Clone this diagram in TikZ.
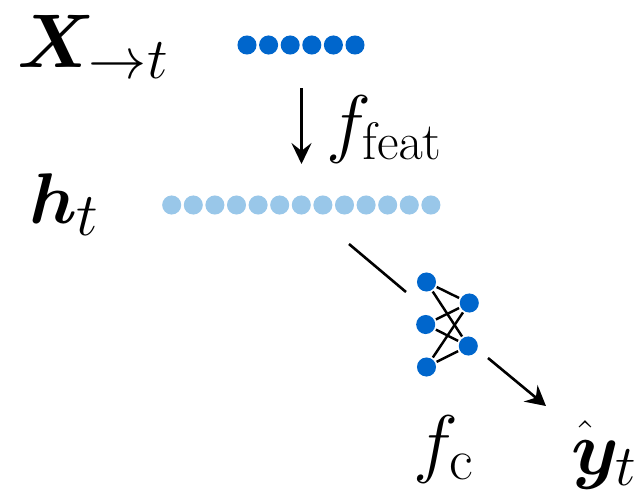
\documentclass[tikz,border=0pt]{standalone}
\usepackage{fix-cm}
\usepackage{amsmath,bm}
\usetikzlibrary{arrows.meta}
\DeclareMathSizes{24.88}{24.88}{19}{14}
\DeclareMathSizes{24.9}{24.9}{17.28}{12}
\DeclareMathSizes{23.5}{23.5}{20}{14}
\definecolor{dotdark}{RGB}{0,102,204}
\definecolor{dotlight}{RGB}{153,199,233}
\begin{document}
\begin{tikzpicture}[x=0.3274pt,y=-0.3274pt,
  lbl/.style={inner sep=0pt,outer sep=0pt,anchor=base west,font=\fontsize{24.88}{30}\selectfont},
  dotd/.style={circle,fill=dotdark,inner sep=0pt,outer sep=0pt,minimum size=6.25pt},
  dotl/.style={circle,fill=dotlight,inner sep=0pt,outer sep=0pt,minimum size=6.25pt},
  nnedge/.style={line width=0.8pt,shorten <=0.6pt,shorten >=0.6pt},
  mainline/.style={line width=0.85pt},
  featarrow/.style={line width=0.75pt,-{Stealth[length=6.9pt,width=6.6pt,inset=2.6pt]}}]
\useasboundingbox (0,0) rectangle (640,499);
% labels
\node[lbl] (X) at (17,67) {$\bm{X}_{\to t}$};
\node[lbl,font=\fontsize{23.5}{28}\selectfont] (h) at (29,223) {$\bm{h}_t$};
\node[lbl,font=\fontsize{24.9}{30}\selectfont] (ff) at (326,148) {$f_{\mathrm{feat}}$};
\node[lbl] (fc) at (413,468) {$f_{\mathrm{c}}$};
\node[lbl] (yh) at (571,474) {\rlap{\hspace{0.2pt}\raisebox{6.5pt}{\fontsize{16}{18}\selectfont$\hat{\phantom{x}}$}}$\bm{y}_t$};
% f_feat arrow
\coordinate (fa1) at (301.5,88);
\coordinate (fa2) at (301.5,164);
\draw[featarrow] (fa1) -- (fa2);
% dot rows
\foreach \i in {0,...,5} \node[dotd] (x\i) at (247+21.6*\i,45) {};
\foreach \i in {0,...,12} \node[dotl] (h\i) at (171.7+21.6*\i,205) {};
% small network
\node[dotd] (L1) at (426.5,282) {};
\node[dotd] (L2) at (425.7,324.5) {};
\node[dotd] (L3) at (426.5,367) {};
\node[dotd] (R1) at (469.3,303) {};
\node[dotd] (R2) at (468.3,346) {};
\foreach \l in {L1,L2,L3} \foreach \r in {R1,R2} \draw[nnedge] (\l) -- (\r);
% main arrow, interrupted by the network
\coordinate (a1) at (349,244);
\coordinate (a2) at (406,292);
\coordinate (a3) at (488,358);
\coordinate (a4) at (546,406);
\draw[mainline] (a1) -- (a2);
\draw[mainline,-{Stealth[length=6.5pt,width=7pt,inset=2.2pt]}] (a3) -- (a4);
\end{tikzpicture}
\end{document}
